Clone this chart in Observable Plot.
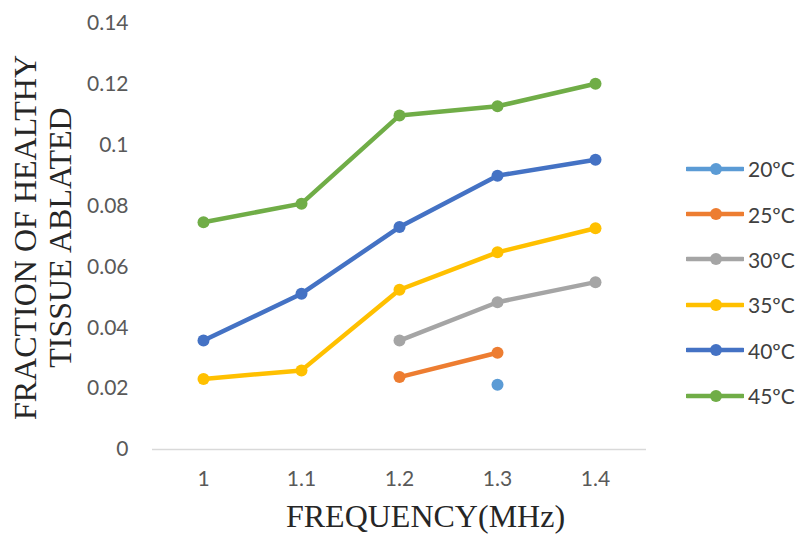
<!DOCTYPE html>
<html><head><meta charset="utf-8">
<script src="https://cdn.jsdelivr.net/npm/d3@7"></script>
<script src="https://cdn.jsdelivr.net/npm/@observablehq/plot@0.6"></script>
<style>
body{margin:0;background:#fff}
#wrap{position:relative;width:795px;height:544px}
#legend{position:absolute;left:686px;top:146px;font-family:Lato,"Open Sans",sans-serif;font-size:21px;color:#404040}
.row{display:flex;align-items:center;height:45.4px}
.row svg{margin-right:4px}
</style>
</head><body><div id="wrap"></div>
<script>
const frequencies = ["1", "1.1", "1.2", "1.3", "1.4"];
const seriesNames = ["20ºC", "25ºC", "30ºC", "35ºC", "40ºC", "45ºC"];
const seriesColors = ["#5B9BD5", "#ED7D31", "#A5A5A5", "#FFC000", "#4472C4", "#70AD47"];
const t20 = [null, null, null, 0.0213, null];
const t25 = [null, null, 0.0238, 0.0318, null];
const t30 = [null, null, 0.0358, 0.0484, 0.0550];
const t35 = [0.0232, 0.0260, 0.0525, 0.0648, 0.0727];
const t40 = [0.0358, 0.0512, 0.0731, 0.0900, 0.0952];
const t45 = [0.0747, 0.0808, 0.1098, 0.1128, 0.1202];
const yTicks = [0, 0.02, 0.04, 0.06, 0.08, 0.1, 0.12, 0.14];
const yTitle = "FRACTION OF HEALTHY\nTISSUE ABLATED";
const xTitle = "FREQUENCY(MHz)";

const allSeries = [t20, t25, t30, t35, t40, t45];
const rows = [];
allSeries.forEach((vals, si) => vals.forEach((v, i) => rows.push({series: seriesNames[si], freq: frequencies[i], value: v})));
const pts = rows.filter(d => d.value != null);

const chart = Plot.plot({
  width: 795, height: 544,
  marginLeft: 152, marginRight: 149, marginTop: 23, marginBottom: 95,
  style: {fontFamily: "Lato, 'Open Sans', sans-serif", fontSize: "21px", color: "#595959", background: "#fff"},
  x: {type: "point", domain: frequencies, padding: 0.5, label: null},
  y: {domain: [0, 0.14], label: null},
  color: {domain: seriesNames, range: seriesColors},
  marks: [
    Plot.ruleY([0], {stroke: "#d9d9d9", strokeWidth: 1.5}),
    Plot.axisY({ticks: yTicks, tickFormat: d => String(d), tickSize: 0, tickPadding: 24, label: null}),
    Plot.axisX({tickSize: 0, tickPadding: 22, label: null}),
    Plot.line(rows, {x: "freq", y: "value", z: "series", stroke: "series", strokeWidth: 4.5, defined: d => d.value != null}),
    Plot.dot(pts, {x: "freq", y: "value", fill: "series", r: 6}),
    Plot.text([yTitle], {frameAnchor: "left", dx: -110, dy: 1, rotate: -90, lineHeight: 1.1, fontFamily: "'Liberation Serif', 'Times New Roman', serif", fontSize: 32, fill: "#262626", textAnchor: "middle"}),
    Plot.text([xTitle], {frameAnchor: "bottom", dx: 26, dy: 77, fontFamily: "'Liberation Serif', 'Times New Roman', serif", fontSize: 32, fill: "#262626", textAnchor: "middle"})
  ]
});
const wrap = document.getElementById("wrap");
wrap.appendChild(chart);

const legend = document.createElement("div");
legend.id = "legend";
seriesNames.forEach((name, i) => {
  const row = document.createElement("div");
  row.className = "row";
  row.innerHTML = `<svg width="58" height="14"><line x1="1" x2="57" y1="7" y2="7" stroke="${seriesColors[i]}" stroke-width="4.5" stroke-linecap="round"/><circle cx="30" cy="7" r="6" fill="${seriesColors[i]}"/></svg><span>${name}</span>`;
  legend.appendChild(row);
});
wrap.appendChild(legend);
</script>
</body></html>
